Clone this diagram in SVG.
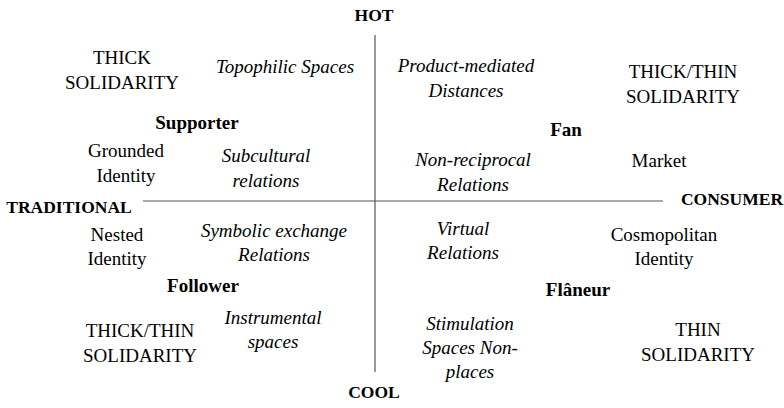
<svg xmlns="http://www.w3.org/2000/svg" width="784" height="408" viewBox="0 0 784 408" font-family="'Liberation Serif', 'Times New Roman', serif">
<style>
text{fill:#000;text-anchor:middle}
.b{font-weight:bold;font-size:19px}
.c{font-weight:bold;font-size:17.5px}
.r{font-size:19px}
.i{font-size:19px;font-style:italic}
.ax{stroke:#555;stroke-width:1.2;fill:none}
</style>
<rect width="784" height="408" fill="#fff"/>
<g id="connectors">
<line class="ax" x1="143" y1="201" x2="663" y2="201"/>
<line class="ax" x1="375" y1="35" x2="375" y2="372"/>
</g>
<g id="hot"><text class="c" x="374" y="21">HOT</text></g>
<g id="cool"><text class="c" x="374" y="398">COOL</text></g>
<g id="traditional"><text class="c" x="69" y="213">TRADITIONAL</text></g>
<g id="consumer"><text class="c" x="732" y="205">CONSUMER</text></g>
<g id="supporter"><text class="b" x="197" y="129">Supporter</text></g>
<g id="fan"><text class="b" x="566" y="136">Fan</text></g>
<g id="follower"><text class="b" x="203" y="292">Follower</text></g>
<g id="flaneur"><text class="b" x="578" y="296">Flâneur</text></g>
<g id="thick-solidarity"><text class="r" x="122" y="64">THICK</text><text class="r" x="122" y="89">SOLIDARITY</text></g>
<g id="topophilic"><text class="i" x="285" y="73">Topophilic Spaces</text></g>
<g id="product"><text class="i" x="466" y="72">Product-mediated</text><text class="i" x="466" y="97">Distances</text></g>
<g id="thickthin-top"><text class="r" x="683" y="78">THICK/THIN</text><text class="r" x="683" y="103">SOLIDARITY</text></g>
<g id="grounded"><text class="r" x="126" y="157">Grounded</text><text class="r" x="126" y="182">Identity</text></g>
<g id="subcultural"><text class="i" x="266" y="162">Subcultural</text><text class="i" x="266" y="187">relations</text></g>
<g id="nonreciprocal"><text class="i" x="473" y="166">Non-reciprocal</text><text class="i" x="473" y="191">Relations</text></g>
<g id="market"><text class="r" x="659" y="167">Market</text></g>
<g id="nested"><text class="r" x="117" y="241">Nested</text><text class="r" x="117" y="265">Identity</text></g>
<g id="symbolic"><text class="i" x="274" y="237">Symbolic exchange</text><text class="i" x="274" y="261">Relations</text></g>
<g id="virtual"><text class="i" x="463" y="235">Virtual</text><text class="i" x="463" y="259">Relations</text></g>
<g id="cosmopolitan"><text class="r" x="664" y="241">Cosmopolitan</text><text class="r" x="664" y="265">Identity</text></g>
<g id="instrumental"><text class="i" x="273" y="324">Instrumental</text><text class="i" x="273" y="348">spaces</text></g>
<g id="thickthin-bottom"><text class="r" x="140" y="337">THICK/THIN</text><text class="r" x="140" y="362">SOLIDARITY</text></g>
<g id="stimulation"><text class="i" x="470" y="330">Stimulation</text><text class="i" x="470" y="354">Spaces Non-</text><text class="i" x="470" y="378">places</text></g>
<g id="thin-solidarity"><text class="r" x="698" y="336">THIN</text><text class="r" x="698" y="361">SOLIDARITY</text></g>
</svg>
